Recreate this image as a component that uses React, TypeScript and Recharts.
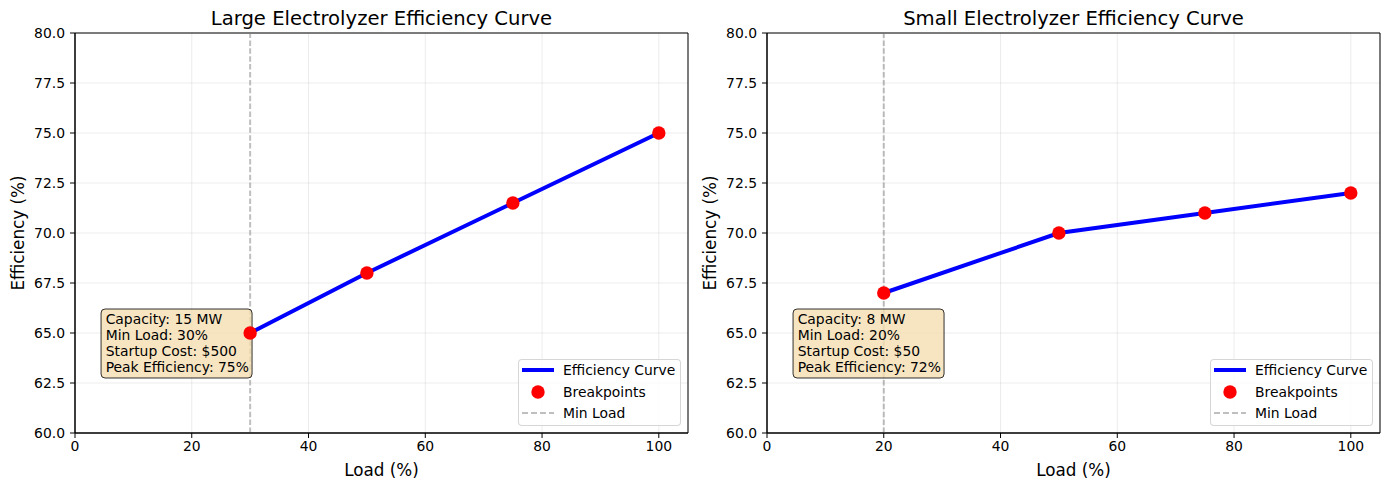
import React from 'react';
import { ComposedChart, Line, Scatter, XAxis, YAxis, CartesianGrid, ReferenceLine, ReferenceArea, ReferenceDot } from 'recharts';

const largeLoad = [30, 50, 75, 100];
const largeEff = [65, 68, 71.5, 75];
const smallLoad = [20, 50, 75, 100];
const smallEff = [67, 70, 71, 72];
const xTicks = [0, 20, 40, 60, 80, 100];
const yTicks = [60, 62.5, 65, 67.5, 70, 72.5, 75, 77.5, 80];
const largeInfo = ['Capacity: 15 MW', 'Min Load: 30%', 'Startup Cost: $500', 'Peak Efficiency: 75%'];
const smallInfo = ['Capacity: 8 MW', 'Min Load: 20%', 'Startup Cost: $50', 'Peak Efficiency: 72%'];
const largeTitle = 'Large Electrolyzer Efficiency Curve';
const smallTitle = 'Small Electrolyzer Efficiency Curve';
const largeMin = 30;
const smallMin = 20;
// info box anchor (0.05, 0.30 of the axes) in data units
const infoAnchorX = 5.25;
const infoAnchorY = 66;

const FONT = '"DejaVu Sans", sans-serif';
const W = 695;
const H = 490;
const TOP = 33;
const BOTTOM = 57;

const RedDot = (props: any) => {
  const { cx, cy } = props;
  if (cx == null || cy == null) return null;
  return <circle cx={cx} cy={cy} r={6.7} fill="#ff0000" />;
};

const makeInfoBox = (lines: string[]) => (props: any) => {
  const { cx, cy } = props;
  if (cx == null || cy == null) return null;
  return (
    <g>
      <rect x={cx - 4.6} y={cy - 4} width={151} height={69} rx={4} ry={4} fill="#f5deb3" fillOpacity={0.8} stroke="#000" strokeOpacity={0.8} strokeWidth={1} />
      {lines.map((s, i) => (
        <text key={s} x={cx} y={cy + 11 + i * 16} fontSize={13.9} fontFamily={FONT} fill="#000">{s}</text>
      ))}
    </g>
  );
};

function Panel({ left, yw, right, title, loads, effs, minLoad, info, ylabOff }: any) {
  const data = loads.map((x: number, i: number) => ({ x, y: effs[i] }));
  const plotL = yw;
  const plotR = W - right;
  const plotB = H - BOTTOM;
  const InfoBox = makeInfoBox(info);
  return (
    <div style={{ position: 'absolute', left, top: 0, width: W, height: H, fontFamily: FONT }}>
      <ComposedChart width={W} height={H} data={data} margin={{ top: TOP, right, bottom: 0, left: 0 }}>
        <CartesianGrid stroke="#b0b0b0" strokeOpacity={0.3} strokeWidth={0.8} />
        <XAxis
          type="number"
          dataKey="x"
          domain={[0, 105]}
          ticks={xTicks}
          height={BOTTOM}
          tickSize={5}
          tickMargin={3}
          stroke="#000"
          tick={{ fill: '#000', fontSize: 13.9, fontFamily: FONT }}
          label={{ value: 'Load (%)', position: 'insideBottom', offset: 14, style: { fill: '#000', fontSize: 16.8, fontFamily: FONT } }}
        />
        <YAxis
          type="number"
          domain={[60, 80]}
          ticks={yTicks}
          width={yw}
          tickSize={5}
          tickMargin={5}
          stroke="#000"
          tickFormatter={(v: number) => v.toFixed(1)}
          tick={{ fill: '#000', fontSize: 13.9, fontFamily: FONT }}
          label={{ value: 'Efficiency (%)', angle: -90, position: 'insideLeft', offset: ylabOff, style: { textAnchor: 'middle', fill: '#000', fontSize: 16.8, fontFamily: FONT } }}
        />
        <ReferenceArea x1={0} x2={105} y1={60} y2={80} fill="none" stroke="#000" strokeWidth={1} ifOverflow="visible" />
        <ReferenceLine x={minLoad} stroke="#808080" strokeOpacity={0.5} strokeWidth={2} strokeDasharray="5.5 2.4" />
        <ReferenceDot x={infoAnchorX} y={infoAnchorY} ifOverflow="visible" shape={<InfoBox />} />
        <Line data={data} dataKey="y" type="linear" stroke="#0000ff" strokeWidth={4} dot={false} isAnimationActive={false} />
        <Scatter data={data} dataKey="y" fill="#ff0000" shape={<RedDot />} isAnimationActive={false} />
      </ComposedChart>
      <div style={{ position: 'absolute', left: plotL, width: plotR - plotL, top: 7, textAlign: 'center', fontSize: 19.6, color: '#000', whiteSpace: 'nowrap' }}>{title}</div>
      <div style={{ position: 'absolute', left: plotR - 7 - 163, top: plotB - 7 - 67, width: 161, height: 65, border: '1px solid rgba(204,204,204,0.8)', borderRadius: 4, background: 'rgba(255,255,255,0.8)', fontSize: 13.9, color: '#000' }}>
        {[0, 1, 2].map((i) => (
          <div key={i} style={{ position: 'absolute', left: 0, top: i * 21.5, height: 20, width: 161, display: 'flex', alignItems: 'center' }}>
            <svg width={40} height={20} style={{ marginLeft: 2 }}>
              {i === 0 && <line x1={1} x2={33} y1={10} y2={10} stroke="#0000ff" strokeWidth={4} />}
              {i === 1 && <circle cx={17} cy={10} r={6.7} fill="#ff0000" />}
              {i === 2 && <line x1={1} x2={33} y1={10} y2={10} stroke="#808080" strokeOpacity={0.5} strokeWidth={2} strokeDasharray="6 3" />}
            </svg>
            <span style={{ marginLeft: 2 }}>{['Efficiency Curve', 'Breakpoints', 'Min Load'][i]}</span>
          </div>
        ))}
      </div>
    </div>
  );
}

export default function App() {
  return (
    <div style={{ position: 'absolute', left: 0, top: 0, width: 1390, height: 490, background: '#fff' }}>
      <Panel left={0} yw={75} right={7} title={largeTitle} loads={largeLoad} effs={largeEff} minLoad={largeMin} info={largeInfo} ylabOff={18} />
      <Panel left={695} yw={72} right={10} title={smallTitle} loads={smallLoad} effs={smallEff} minLoad={smallMin} info={smallInfo} ylabOff={15} />
    </div>
  );
}
